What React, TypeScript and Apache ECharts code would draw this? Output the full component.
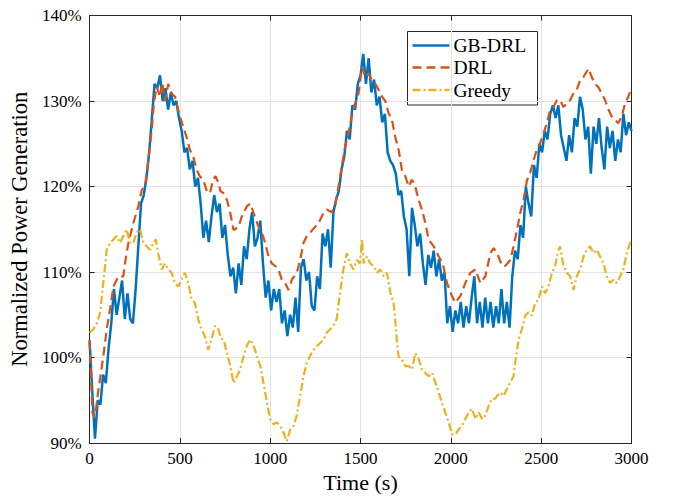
import React, { useEffect, useRef } from "react";
import * as echarts from "echarts";

// x-axis ticks (s) and y-axis ticks (%)
const xTicks = [0, 500, 1000, 1500, 2000, 2500, 3000];
const yTicks = [90, 100, 110, 120, 130, 140];

// GB-DRL sampled every 15 s (t = 0 ... 3000)
const BLUE_STEP = 15;
const gbDrlValues = [
  102, 96, 90.5, 95, 94.5, 98, 97, 101, 104, 108,
  105, 107, 109, 104.5, 107.5, 104.5, 104, 108, 113, 118,
  119, 121, 124, 128, 132, 131.5, 133, 130, 131.5, 129,
  131, 129.5, 130, 128, 126.5, 124, 124.5, 122, 123, 120,
  121, 118, 114, 116, 113.5, 116.5, 119, 117, 118, 114,
  115.5, 112, 109.5, 110.5, 107.5, 111, 108.5, 113, 111.5, 115,
  117, 113, 114, 116, 111, 107, 109, 105.5, 108, 106.5,
  108, 104, 105.5, 102.5, 105, 103.5, 107, 103, 110.5, 111.5,
  109, 110, 106, 105.5, 109.5, 108, 114.5, 113, 115, 110.5,
  117, 118.5, 119.5, 122, 123.5, 126.5, 125.5, 129.5, 129, 132,
  133, 135.5, 132, 135, 131, 132.5, 129.5, 130.5, 127.5, 128.5,
  124, 123, 122.5, 121.5, 119, 119.5, 116.5, 115, 109.5, 117.5,
  115.5, 113, 114.5, 111, 108.5, 112, 110.5, 112.5, 109.5, 111.5,
  109, 110, 104, 106, 103, 105.5, 104, 106.5, 103.5, 106,
  104, 107, 109.5, 104, 106.5, 103.5, 107, 104, 106.5, 103.5,
  106, 104, 108, 104, 106.5, 103.5, 109.5, 112.5, 111.5, 115.5,
  114, 120, 118, 116.5, 122.5, 121, 125, 124, 126.5, 125.5,
  128.5, 129.5, 128, 129.5, 126, 124.5, 123, 126, 124, 128,
  127, 130.5, 129, 125.5, 127, 121.5, 127, 125, 128, 124.5,
  122, 127, 124.5, 126.5, 123, 125.5, 124, 128.5, 126, 127.5,
  126.5,
];

// DRL
const drlTimes = [
  0, 16, 30, 49, 76, 95, 113, 132, 160, 187, 196, 215, 242, 270, 289, 307, 325, 344, 356, 371,
  390, 403, 417, 436, 454, 473, 500, 518, 537, 555, 574, 592, 610, 629, 647, 666, 684, 697, 712, 724,
  742, 761, 779, 797, 825, 843, 871, 890, 908, 935, 954, 972, 991, 1009, 1028, 1046, 1064, 1083, 1101, 1120,
  1147, 1166, 1184, 1203, 1221, 1249, 1267, 1295, 1313, 1341, 1359, 1378, 1396, 1414, 1433, 1451, 1470, 1489, 1508, 1526,
  1545, 1563, 1582, 1600, 1619, 1637, 1655, 1674, 1692, 1711, 1729, 1748, 1766, 1785, 1803, 1822, 1840, 1859, 1877, 1905,
  1933, 1955, 1979, 2006, 2025, 2053, 2080, 2108, 2136, 2163, 2191, 2219, 2237, 2264, 2283, 2301, 2329, 2347, 2366, 2384,
  2402, 2421, 2439, 2458, 2476, 2494, 2513, 2531, 2550, 2568, 2587, 2605, 2623, 2642, 2660, 2679, 2697, 2716, 2734, 2762,
  2780, 2798, 2817, 2835, 2854, 2872, 2890, 2909, 2927, 2946, 2964, 2982, 3000,
];
const drlValues = [
  102, 93.5, 93, 96.2, 100.1, 103.3, 105.6, 108.3, 109.5, 109.5, 111, 113.4, 115.7, 117.7, 119.6, 120, 123, 126.6, 129.7, 131.7,
  130.5, 132.2, 130, 132, 130.9, 130.5, 128.2, 127, 125.8, 124.3, 123.5, 122, 121.2, 120.8, 119.6, 119.2, 120.8, 121.2, 120.5, 119.5,
  119.2, 118.4, 116.9, 114.9, 115.3, 116.5, 117.7, 118, 116.9, 115.3, 114.6, 113.4, 111.8, 111, 110.7, 110.3, 109.1, 108.7, 107.9, 109.1,
  109.9, 111.4, 113.4, 114.2, 114.6, 115.3, 115.7, 116.9, 117.3, 117, 117.7, 120, 122.3, 124.6, 126.2, 128.2, 129.7, 130.9, 134, 132.8,
  133.2, 132.4, 132, 131.3, 130.5, 130, 128.6, 127.8, 125.8, 124.3, 121.9, 121.2, 120, 120.8, 120, 118.4, 117.3, 115.7, 113.8, 113,
  111.8, 111, 108.7, 107.2, 106.4, 107.2, 108.7, 109.9, 110.3, 108.7, 109.5, 112.2, 112.8, 111.8, 110.7, 110.7, 111.4, 113, 114.9, 116.9,
  118.4, 120.7, 121.6, 123.1, 124.3, 125.1, 126.2, 127.4, 129, 129.3, 130.1, 130.1, 129.3, 129.7, 130.1, 130.9, 131.3, 132.5, 132.8, 133.8,
  132.8, 132, 131.6, 130.9, 130.1, 129, 128.2, 127.8, 127.4, 128.2, 129.7, 130.5, 131.5,
];

// Greedy
const greedyTimes = [
  0, 21, 40, 58, 76, 95, 113, 132, 150, 169, 187, 205, 224, 242, 260, 279, 298, 316, 334, 353,
  367, 380, 399, 417, 436, 454, 473, 491, 509, 528, 546, 565, 583, 601, 620, 638, 657, 675, 694, 712,
  730, 742, 761, 779, 797, 816, 834, 853, 871, 890, 908, 926, 945, 963, 982, 1000, 1018, 1037, 1055, 1074,
  1092, 1111, 1129, 1147, 1166, 1184, 1203, 1221, 1240, 1258, 1276, 1295, 1313, 1332, 1350, 1368, 1387, 1405, 1424, 1442,
  1461, 1479, 1497, 1508, 1517, 1535, 1554, 1572, 1591, 1609, 1628, 1646, 1665, 1683, 1692, 1702, 1711, 1729, 1748, 1766,
  1785, 1803, 1822, 1840, 1859, 1877, 1896, 1914, 1933, 1951, 1970, 1988, 2006, 2025, 2043, 2062, 2080, 2099, 2117, 2136,
  2154, 2173, 2191, 2210, 2228, 2246, 2255, 2273, 2292, 2310, 2329, 2347, 2356, 2375, 2393, 2412, 2430, 2448, 2467, 2485,
  2504, 2522, 2540, 2559, 2577, 2596, 2605, 2623, 2642, 2660, 2679, 2697, 2716, 2734, 2753, 2771, 2790, 2808, 2826, 2845,
  2863, 2882, 2900, 2918, 2937, 2955, 2974, 2992, 3000,
];
const greedyValues = [
  102.9, 103.3, 104, 105.2, 108.7, 112.6, 113.4, 113.8, 114.2, 113.4, 114.2, 115, 113.4, 113.4, 114.6, 115, 113.4, 113, 112.6, 113.4,
  113.8, 112.2, 110.3, 111, 110.3, 109.9, 108.7, 108.3, 109.1, 109.9, 108.7, 106.8, 106.4, 104.5, 103.3, 102.5, 100.9, 102.1, 103.7, 103.3,
  102.2, 102.1, 100.5, 99, 97, 97.8, 98.6, 100.2, 101.4, 102.1, 101.4, 100.2, 99, 97, 94.7, 92.8, 92.2, 92.4, 92, 91.2,
  90.2, 91.6, 92, 93.2, 95.5, 97.8, 99.4, 100.2, 100.9, 101.3, 101.7, 102.1, 102.9, 103.3, 103.7, 104.5, 107.6, 110.3, 112.2, 111,
  110.3, 111.4, 111, 113.8, 111, 111.8, 111, 110.7, 109.9, 110.3, 109.5, 109.9, 107.6, 106.4, 104.4, 101.7, 100.1, 99.8, 99, 99,
  98.6, 100.5, 99.8, 98.6, 98.2, 97.8, 98.2, 97.1, 95.9, 94.7, 93.5, 92.4, 91, 91, 91.6, 92, 92.8, 93.6, 94, 92.8,
  93.6, 92.8, 93.2, 94.4, 95.2, 95.2, 95.5, 95.9, 95.5, 96.3, 97.1, 97.8, 99.4, 102.1, 103.3, 104.9, 105.3, 104.9, 106.4, 106.8,
  108.3, 107.5, 108.3, 109.9, 110.7, 112.6, 113, 110.7, 109.9, 109.5, 107.9, 109.5, 110.3, 111.8, 112.6, 113, 112.2, 112.6, 111.8, 111,
  109.5, 108.7, 109.1, 108.7, 109.5, 110.3, 112.2, 113.4, 113.8,
];

const seriesNames = ["GB-DRL", "DRL", "Greedy"];
const seriesColors = ["#0072BD", "#D95319", "#EDB120"];
const seriesDash: (number[] | null)[] = [null, [9, 5], [8, 3, 2, 3]];
const xLabel = "Time (s)";
const yLabel = "Normalized Power Generation";

const FONT = "Liberation Serif";
const AXIS_COLOR = "#262626";

export default function App() {
  const ref = useRef<HTMLDivElement>(null);

  useEffect(() => {
    if (!ref.current) return;
    const chart = echarts.init(ref.current, undefined, { renderer: "svg" });

    const gbData = gbDrlValues.map((v, i) => [i * BLUE_STEP, v]);
    const drlData = drlTimes.map((t, i) => [t, drlValues[i]]);
    const greedyData = greedyTimes.map((t, i) => [t, greedyValues[i]]);

    const xMin = xTicks[0];
    const xMax = xTicks[xTicks.length - 1];
    const xInt = xTicks[1] - xTicks[0];
    const yMin = yTicks[0];
    const yMax = yTicks[yTicks.length - 1];
    const yInt = yTicks[1] - yTicks[0];

    const tickStyle = { show: true, inside: true, length: 5, lineStyle: { color: AXIS_COLOR, width: 1 } };
    const lineStyleAxis = { show: true, onZero: false, lineStyle: { color: AXIS_COLOR, width: 1 } };

    // legend drawn as graphic (box, line samples, labels)
    const lgX = 407.5;
    const lgY = 31.5;
    const lgW = 130;
    const lgH = 73.5;
    const rowY = [45.5, 67.5, 90];
    const legendChildren: any[] = [
      {
        type: "rect",
        shape: { x: lgX, y: lgY, width: lgW, height: lgH },
        style: { fill: "#ffffff", stroke: AXIS_COLOR, lineWidth: 1 },
      },
    ];
    seriesNames.forEach((name, i) => {
      legendChildren.push({
        type: "line",
        shape: { x1: lgX + 5, y1: rowY[i], x2: lgX + 42, y2: rowY[i] },
        style: {
          stroke: seriesColors[i],
          lineWidth: 2.3,
          lineDash: seriesDash[i] || undefined,
        },
      });
      legendChildren.push({
        type: "text",
        x: lgX + 46,
        y: rowY[i],
        style: {
          text: name,
          fontFamily: FONT,
          fontSize: 19.5,
          fill: "#000",
          verticalAlign: "middle",
          align: "left",
        },
      });
    });

    const mkSeries = (i: number, data: number[][]) => ({
      name: seriesNames[i],
      type: "line",
      data,
      symbol: "none",
      color: seriesColors[i],
      lineStyle: {
        color: seriesColors[i],
        width: i === 0 ? 2.5 : 2.2,
        type: seriesDash[i] || "solid",
      },
      z: 2 + i,
    });

    chart.setOption({
      animation: false,
      backgroundColor: "#ffffff",
      textStyle: { fontFamily: FONT },
      grid: { left: 89.5, right: 41.5, top: 15.5, bottom: 57, containLabel: false },
      graphic: [{ type: "group", z: 100, children: legendChildren }],
      xAxis: [
        {
          type: "value",
          min: xMin,
          max: xMax,
          interval: xInt,
          position: "bottom",
          name: xLabel,
          nameLocation: "middle",
          nameGap: 28,
          nameTextStyle: { fontFamily: FONT, fontSize: 22, color: "#000" },
          axisLine: lineStyleAxis,
          axisTick: tickStyle,
          axisLabel: {
            fontFamily: FONT,
            fontSize: 17,
            color: "#000",
            margin: 7,
            formatter: (v: number) => String(v),
          },
          splitLine: { show: true, lineStyle: { color: "#e3e3e3", width: 1 } },
        },
        {
          type: "value",
          min: xMin,
          max: xMax,
          interval: xInt,
          position: "top",
          axisLine: lineStyleAxis,
          axisTick: tickStyle,
          axisLabel: { show: false },
          splitLine: { show: false },
        },
      ],
      yAxis: [
        {
          type: "value",
          min: yMin,
          max: yMax,
          interval: yInt,
          position: "left",
          name: yLabel,
          nameLocation: "middle",
          nameGap: 58,
          nameTextStyle: { fontFamily: FONT, fontSize: 22.5, color: "#000" },
          axisLine: lineStyleAxis,
          axisTick: tickStyle,
          axisLabel: {
            fontFamily: FONT,
            fontSize: 17,
            color: "#000",
            margin: 8,
            formatter: (v: number) => `${v}%`,
          },
          splitLine: { show: true, lineStyle: { color: "#e3e3e3", width: 1 } },
        },
        {
          type: "value",
          min: yMin,
          max: yMax,
          interval: yInt,
          position: "right",
          axisLine: lineStyleAxis,
          axisTick: tickStyle,
          axisLabel: { show: false },
          splitLine: { show: false },
        },
      ],
      series: [mkSeries(0, gbData), mkSeries(1, drlData), mkSeries(2, greedyData)],
    });

    return () => {
      chart.dispose();
    };
  }, []);

  return (
    <div
      ref={ref}
      style={{ width: 673, height: 500, position: "absolute", left: 0, top: 0 }}
    />
  );
}
